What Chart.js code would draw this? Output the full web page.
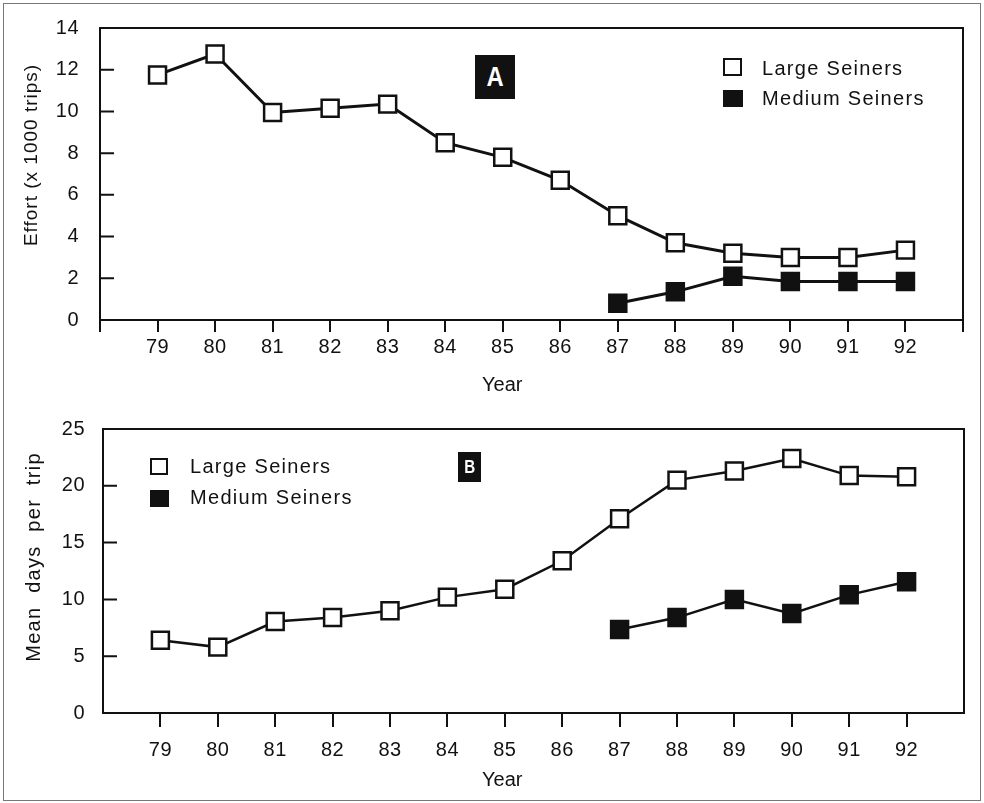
<!DOCTYPE html>
<html>
<head>
<meta charset="utf-8">
<script src="https://cdn.jsdelivr.net/npm/chart.js@4.4.0/dist/chart.umd.min.js"></script>
<style>
    body { margin: 0; background: #fff; }
    #page { position: relative; width: 984px; height: 803px; overflow: hidden; background: #fff;
            font-family: "Liberation Sans", Arial, sans-serif; color: #111; }
    #page canvas { position: absolute; left: 0; }
    .frame { position: absolute; left: 3px; top: 3px; width: 976px; height: 796px; border: 1.5px solid #777; }
    .txt { position: absolute; white-space: pre; font-size: 20px; line-height: 22px; }
    .legend { letter-spacing: 1.3px; }
    .sq { position: absolute; box-sizing: border-box; border: 2px solid #111; }
    .sq.open { background: #fff; }
    .sq.full { background: #111; }
    .ytitle { position: absolute; white-space: pre; line-height: 22px; transform: translate(-50%, -50%) rotate(-90deg); }
    .panel { position: absolute; background: #111; color: #fff; font-weight: bold; text-align: center; }
</style>
</head>
<body>
<div id="page">
    <div class="frame"></div>
    <canvas id="effortChart" width="984" height="400" style="top:0px"></canvas>
    <canvas id="daysChart" width="984" height="403" style="top:400px"></canvas>

    <!-- panel A -->
    <div class="panel" style="left:475px;top:55px;width:40px;height:44px;line-height:44px;font-size:28px;"><span style="display:inline-block;transform:scaleX(0.85)">A</span></div>
    <div class="sq open" style="left:723px;top:58px;width:19px;height:18px;"></div>
    <div class="txt legend" style="left:762px;top:57px;">Large Seiners</div>
    <div class="sq full" style="left:723px;top:90px;width:20px;height:17px;"></div>
    <div class="txt legend" style="left:762px;top:87px;">Medium Seiners</div>
    <div class="ytitle" style="left:31px;top:155px;font-size:19px;letter-spacing:1px;">Effort (x 1000 trips)</div>
    <div class="txt" style="left:482px;top:373px;">Year</div>

    <!-- panel B -->
    <div class="panel" style="left:458px;top:452px;width:23px;height:30px;line-height:30px;font-size:19px;"><span style="display:inline-block;transform:scaleX(0.8)">B</span></div>
    <div class="sq open" style="left:150px;top:458px;width:18px;height:17px;"></div>
    <div class="txt legend" style="left:190px;top:455px;">Large Seiners</div>
    <div class="sq full" style="left:150px;top:490px;width:19px;height:17px;"></div>
    <div class="txt legend" style="left:190px;top:486px;">Medium Seiners</div>
    <div class="ytitle" style="left:33px;top:557px;font-size:20px;letter-spacing:1.3px;">Mean  days  per  trip</div>
    <div class="txt" style="left:482px;top:768px;">Year</div>
</div>

<script>
const years = [79, 80, 81, 82, 83, 84, 85, 86, 87, 88, 89, 90, 91, 92];
const mediumYears = [87, 88, 89, 90, 91, 92];

// effort, thousands of trips
const effortLarge = [11.75, 12.75, 9.95, 10.15, 10.35, 8.5, 7.8, 6.7, 5.0, 3.7, 3.2, 3.0, 3.0, 3.35];
const effortMedium = [0.8, 1.35, 2.1, 1.85, 1.85, 1.85];

// mean days per trip
const daysLarge = [6.4, 5.8, 8.05, 8.4, 9.0, 10.2, 10.9, 13.4, 17.1, 20.5, 21.3, 22.4, 20.9, 20.8];
const daysMedium = [7.35, 8.4, 10.0, 8.75, 10.4, 11.55];

const effortTicks = [0, 2, 4, 6, 8, 10, 12, 14];
const daysTicks = [0, 5, 10, 15, 20, 25];

const INK = '#111';
const FONT = '"Liberation Sans", Arial, sans-serif';

function points(xs, ys) {
    return xs.map(function(x, i) { return {x: x, y: ys[i]}; });
}

// slightly wider lettering on the canvas text
const spacing = {
    id: 'spacing',
    beforeDraw: function(chart) { chart.ctx.letterSpacing = '0.5px'; }
};

// top and right edge of the plot box, plus y ticks pointing into the plot
const boxAndTicks = {
    id: 'boxAndTicks',
    beforeDatasetsDraw: function(chart, args, opts) {
        const ctx = chart.ctx;
        const a = chart.chartArea;
        const y = chart.scales.y;
        ctx.save();
        ctx.strokeStyle = INK;
        ctx.lineWidth = 2;
        ctx.beginPath();
        ctx.moveTo(a.left, a.top);
        ctx.lineTo(a.right, a.top);
        ctx.lineTo(a.right, a.bottom);
        y.ticks.forEach(function(t) {
            if (t.value <= y.min || t.value >= y.max) return;
            const py = y.getPixelForValue(t.value);
            ctx.moveTo(a.left, py);
            ctx.lineTo(a.left + opts.length, py);
        });
        ctx.stroke();
        ctx.restore();
    }
};

function makeChart(id, large, medium, yMax, yTicks, cfg) {
    const lineStyle = {
        borderColor: INK,
        borderWidth: cfg.lineWidth,
        pointStyle: 'rect',
        pointRadius: 12,
        pointBorderWidth: 2.5,
        pointBorderColor: INK,
        tension: 0
    };
    return new Chart(document.getElementById(id), {
        type: 'line',
        data: {
            datasets: [
                Object.assign({label: 'Large Seiners', data: points(years, large), pointBackgroundColor: '#fff'}, lineStyle),
                Object.assign({label: 'Medium Seiners', data: points(mediumYears, medium), pointBackgroundColor: INK}, lineStyle)
            ]
        },
        options: {
            responsive: false,
            animation: false,
            devicePixelRatio: 1,
            layout: { padding: { top: cfg.top, right: cfg.right, left: 0, bottom: 0 } },
            plugins: {
                legend: { display: false },
                tooltip: { enabled: false },
                boxAndTicks: { length: 14 }
            },
            scales: {
                x: {
                    type: 'linear',
                    min: 78,
                    max: 93,
                    afterFit: function(s) { s.height = cfg.xHeight; },
                    afterBuildTicks: function(s) {
                        s.ticks = s.ticks.filter(function(t) { return cfg.edgeTicks || (t.value > 78 && t.value < 93); });
                    },
                    ticks: {
                        stepSize: 1,
                        autoSkip: false,
                        maxRotation: 0,
                        padding: cfg.xPad,
                        color: INK,
                        font: { family: FONT, size: 20 },
                        callback: function(v) { return (v > 78 && v < 93) ? String(v) : ''; }
                    },
                    grid: { drawOnChartArea: false, drawTicks: true, tickLength: cfg.tickLength, color: INK, lineWidth: 2 },
                    border: { display: true, color: INK, width: 2 }
                },
                y: {
                    min: 0,
                    max: yMax,
                    afterFit: function(s) { s.width = cfg.left; },
                    afterBuildTicks: function(s) {
                        s.ticks = yTicks.map(function(v) { return {value: v}; });
                    },
                    ticks: {
                        padding: cfg.yPad,
                        color: INK,
                        font: { family: FONT, size: 20 }
                    },
                    grid: { display: false },
                    border: { display: true, color: INK, width: 2 }
                }
            }
        },
        plugins: [spacing, boxAndTicks]
    });
}

makeChart('effortChart', effortLarge, effortMedium, 14, effortTicks, {
    top: 28, right: 21, left: 100, xHeight: 80, xPad: 3, yPad: 13,
    tickLength: 12, lineWidth: 3, edgeTicks: true
});

makeChart('daysChart', daysLarge, daysMedium, 25, daysTicks, {
    top: 29, right: 20, left: 103, xHeight: 90, xPad: 11, yPad: 10,
    tickLength: 14, lineWidth: 2.5, edgeTicks: false
});
</script>
</body>
</html>
